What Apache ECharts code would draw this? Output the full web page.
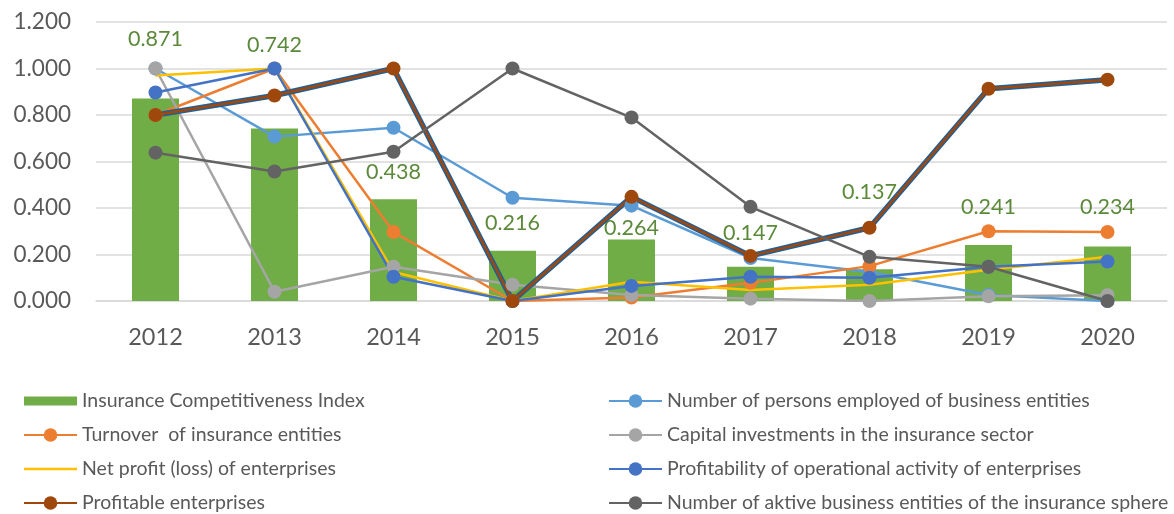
<!DOCTYPE html>
<html>
<head>
<meta charset="utf-8">
<script src="https://cdn.jsdelivr.net/npm/echarts@6/dist/echarts.min.js"></script>
<style>
  html, body { margin: 0; padding: 0; background: #fff; }
  #main { width: 1174px; height: 514px; }
</style>
</head>
<body>
<div id="main"></div>
<script>
const years = ['2012', '2013', '2014', '2015', '2016', '2017', '2018', '2019', '2020']
const yTicks = [0, 0.2, 0.4, 0.6, 0.8, 1.0, 1.2]

const competitiveness = [0.871, 0.742, 0.438, 0.216, 0.264, 0.147, 0.137, 0.241, 0.234]
const personsEmployed = [1.0, 0.707, 0.745, 0.444, 0.41, 0.185, 0.125, 0.026, 0.0]
const turnover = [0.8, 1.0, 0.297, 0.0, 0.015, 0.078, 0.15, 0.3, 0.297]
const capitalInvest = [1.0, 0.04, 0.147, 0.07, 0.026, 0.01, 0.0, 0.02, 0.025]
const netProfit = [0.97, 1.0, 0.125, 0.0, 0.083, 0.047, 0.07, 0.134, 0.19]
const profitability = [0.897, 1.0, 0.104, 0.0, 0.065, 0.104, 0.1, 0.147, 0.17]
const profitableEnt = [0.8, 0.884, 1.0, 0.0, 0.448, 0.194, 0.315, 0.913, 0.952]
const activeEntities = [0.638, 0.557, 0.642, 1.0, 0.789, 0.405, 0.19, 0.147, 0.0]

// labels were dragged around in the original, shift them the same way
const labelShift = [-44, -68, -12, -13, 3, -19, -62, -23, -25]

const FONT = 'Lato'
const TXT = '#595959'

let chart = echarts.init(document.getElementById('main'))

function lineSerie(name, data, color, opts) {
    return Object.assign({
        name: name,
        type: 'line',
        data: data,
        symbol: 'circle',
        symbolSize: 14,
        showSymbol: true,
        lineStyle: { color: color, width: 2.5 },
        itemStyle: { color: color },
        emphasis: { disabled: true }
    }, opts || {})
}

const leftNames = ['Insurance Competitiveness Index', 'Turnover  of insurance entities',
    'Net profit (loss) of enterprises', 'Profitable enterprises']
const rightNames = ['Number of persons employed of business entities', 'Capital investments in the insurance sector',
    'Profitability of operational activity of enterprises', 'Number of aktive business entities of the insurance sphere']

// icons with a full 53x17 bounding box so they keep their proportions
const barIcon = 'path://M0,0L0.01,0ZM0,4H53V13H0ZM53,17L52.99,17Z'
const plainLineIcon = 'path://M0,0L0.01,0ZM0,7.3H53V9.7H0ZM53,17L52.99,17Z'

const legendBase = {
    orient: 'vertical',
    top: 391,
    height: 130,
    padding: 0,
    itemWidth: 53,
    itemHeight: 17,
    itemGap: 14,
    textStyle: { fontFamily: FONT, fontSize: 19.5, color: TXT, lineHeight: 20 },
    selectedMode: false
}

chart.setOption({
    animation: false,
    textStyle: { fontFamily: FONT },
    legend: [
        Object.assign({}, legendBase, {
            left: 23,
            data: [
                { name: leftNames[0], icon: barIcon },
                leftNames[1],
                { name: leftNames[2], icon: plainLineIcon },
                leftNames[3]
            ]
        }),
        Object.assign({}, legendBase, { left: 608, data: rightNames })
    ],
    grid: { left: 96, right: 7, top: 22, bottom: 213 },
    xAxis: {
        type: 'category',
        data: years,
        axisTick: { show: false },
        axisLine: { lineStyle: { color: '#D9D9D9', width: 1.5 } },
        axisLabel: { color: TXT, fontSize: 23.5, margin: 24, fontFamily: FONT }
    },
    yAxis: {
        type: 'value',
        min: yTicks[0],
        max: yTicks[yTicks.length - 1],
        interval: 0.2,
        axisLine: { show: false },
        axisTick: { show: false },
        splitLine: { lineStyle: { color: '#D9D9D9', width: 1.5 } },
        axisLabel: {
            color: TXT, fontSize: 22.5, margin: 25, fontFamily: FONT,
            formatter: v => v.toFixed(3)
        }
    },
    series: [
        {
            name: leftNames[0],
            type: 'bar',
            barWidth: 47,
            itemStyle: { color: '#70AD47' },
            emphasis: { disabled: true },
            data: competitiveness.map((v, i) => ({
                value: v,
                label: { offset: [0, labelShift[i]] }
            })),
            label: {
                show: true,
                position: 'top',
                distance: 4,
                color: '#5B8A3A',
                fontSize: 21.5,
                fontFamily: FONT,
                formatter: p => p.value.toFixed(3)
            }
        },
        lineSerie(rightNames[0], personsEmployed, '#5B9BD5'),
        lineSerie(leftNames[1], turnover, '#ED7D31'),
        lineSerie(rightNames[1], capitalInvest, '#A5A5A5'),
        lineSerie(leftNames[2], netProfit, '#FFC000', { showSymbol: false, symbol: 'none' }),
        lineSerie(rightNames[2], profitability, '#4472C4'),
        // dark blue shadow line sitting under the brown one (no legend entry)
        lineSerie('shadow', profitableEnt, '#255E91', { symbol: 'none', showSymbol: false, lineStyle: { color: '#255E91', width: 5.5 } }),
        lineSerie(leftNames[3], profitableEnt, '#9E480E', { lineStyle: { color: '#9E480E', width: 2.5 } }),
        lineSerie(rightNames[3], activeEntities, '#636363')
    ]
})
</script>
</body>
</html>
